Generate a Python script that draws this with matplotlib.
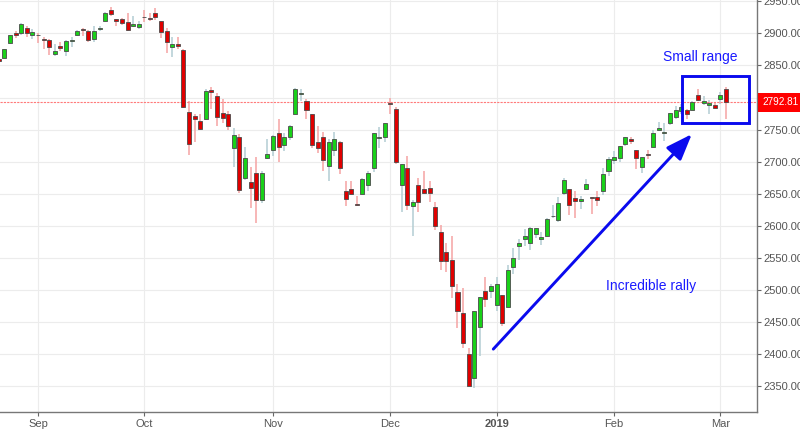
import numpy as np
import matplotlib
matplotlib.use("Agg")
import matplotlib.pyplot as plt
from matplotlib.patches import Rectangle

plt.rcParams['font.family'] = ['Liberation Sans', 'DejaVu Sans']

## S&P 500 daily candles, 23 Aug 2018 - 4 Mar 2019 ##
opens = [2860, 2862, 2885, 2901, 2901, 2909, 2898,
         2897, 2892, 2889, 2868, 2881, 2872, 2888, 2897, 2906, 2904, 2891, 2907, 2920, 2937,
         2922, 2922, 2917, 2912, 2910,
         2926, 2924, 2932, 2919, 2903, 2878, 2883, 2874, 2777, 2771, 2764, 2767, 2812, 2802,
         2776, 2774, 2721, 2738, 2675, 2668, 2683, 2641, 2706,
         2718, 2745, 2726, 2738, 2774, 2806, 2794, 2774, 2730, 2738, 2694, 2719, 2731, 2655,
         2658, 2633, 2650, 2664, 2691, 2737, 2738,
         2790.5, 2782, 2664, 2691, 2631, 2664, 2658, 2659, 2630, 2591, 2560, 2547, 2497, 2465,
         2401, 2363, 2443, 2499, 2499,
         2477, 2492, 2474, 2536, 2568, 2580, 2574, 2588, 2580, 2585, 2615, 2609, 2651, 2658,
         2643, 2639, 2657, 2645, 2645, 2654, 2685,
         2702, 2706, 2728, 2735, 2718, 2692, 2712, 2723, 2750, 2744, 2760, 2769, 2779, 2781,
         2781, 2804, 2792, 2788, 2788,
         2798, 2814]
highs = [2868, 2876, 2898, 2904, 2916, 2912, 2907,
         2900, 2895, 2892, 2883, 2886, 2890, 2894, 2906, 2908, 2905, 2912, 2912, 2934, 2941,
         2923, 2924, 2931, 2927, 2920,
         2937, 2932, 2940, 2920, 2909, 2894, 2894, 2875, 2795, 2775, 2775, 2814, 2816, 2807,
         2797, 2779, 2753, 2743, 2723, 2692, 2707, 2685, 2736,
         2741, 2766, 2744, 2757, 2815, 2814, 2797, 2775, 2755, 2747, 2735, 2747, 2733, 2670,
         2670, 2647, 2675, 2686, 2744, 2754, 2760,
         2800, 2785, 2696, 2709, 2641, 2675, 2686, 2670, 2638, 2602, 2573, 2585, 2509, 2504,
         2410, 2467, 2489, 2520, 2510,
         2520, 2493, 2539, 2566, 2580, 2595, 2598, 2597, 2590, 2613, 2632, 2645, 2675, 2658,
         2654, 2647, 2673, 2645, 2654, 2690, 2708,
         2716, 2725, 2738, 2739, 2718, 2708, 2718, 2749, 2762, 2761, 2776, 2787, 2790, 2782,
         2794, 2814, 2803, 2796, 2793,
         2809, 2816]
lows = [2855, 2862, 2884, 2893, 2898, 2895, 2891,
        2885, 2876, 2867, 2864, 2873, 2864, 2879, 2896, 2896, 2886, 2887, 2903, 2919, 2927,
        2912, 2913, 2903, 2910, 2907,
        2917, 2920, 2921, 2893, 2869, 2863, 2875, 2784, 2710, 2730, 2749, 2767, 2782, 2755,
        2760, 2749, 2692, 2651, 2671, 2628, 2604, 2636, 2705,
        2709, 2700, 2717, 2734, 2774, 2795, 2766, 2722, 2714, 2685, 2670, 2709, 2681, 2631,
        2650, 2631, 2650, 2655, 2684, 2722, 2730,
        2774, 2697, 2621, 2624, 2584, 2622, 2650, 2638, 2594, 2531, 2528, 2488, 2441, 2409,
        2351, 2347, 2398, 2473, 2488,
        2468, 2444, 2474, 2525, 2547, 2568, 2562, 2581, 2570, 2585, 2612, 2606, 2648, 2617,
        2613, 2627, 2657, 2618, 2631, 2648, 2678,
        2696, 2700, 2724, 2728, 2688, 2682, 2705, 2723, 2748, 2732, 2757, 2767, 2775, 2766,
        2781, 2794, 2789, 2775, 2784,
        2790, 2767]
closes = [2857, 2875, 2897, 2898, 2914, 2901, 2902,
          2896.7, 2889, 2878, 2872, 2877, 2888, 2889, 2904, 2905, 2889, 2904, 2908, 2931, 2930,
          2919, 2916, 2906, 2914, 2914,
          2925, 2923, 2926, 2902, 2886, 2884, 2880, 2786, 2728, 2767, 2751, 2810, 2809, 2769,
          2768, 2756, 2741, 2656, 2706, 2659, 2641, 2683, 2712,
          2740, 2723, 2738, 2755, 2814, 2807, 2781, 2726, 2722, 2702, 2730, 2736, 2691, 2642,
          2650, 2632.6, 2673, 2682, 2744, 2738, 2760,
          2790.4, 2700, 2696, 2633, 2638, 2637, 2651, 2651, 2600, 2546, 2546, 2507, 2467, 2417,
          2351, 2468, 2489, 2486, 2507,
          2510, 2448, 2532, 2550, 2574, 2585, 2597, 2596, 2583, 2610, 2616, 2636, 2671, 2633,
          2639, 2642, 2665, 2644, 2640, 2681, 2704,
          2707, 2725, 2738, 2732, 2706, 2708, 2710, 2745, 2753, 2746, 2776, 2780, 2785, 2775,
          2793, 2796, 2794, 2792, 2784,
          2804, 2792.81]

month_labels = ['Sep', 'Oct', 'Nov', 'Dec', '2019', 'Feb', 'Mar']
month_idx = [7, 26, 49, 70, 89, 110, 129]   # first trading day of each month
last_price = 2792.81

o = np.array(opens, float)
h = np.array(highs, float)
l = np.array(lows, float)
c = np.array(closes, float)
x = np.arange(len(o))
up = c >= o

fig = plt.figure(figsize=(8, 4.29), dpi=100)
ax = fig.add_axes([0, 0.0396, 0.9459, 0.9604])

# grid
for v in range(2350, 2951, 50):
    ax.axhline(v, color='#ececec', lw=0.8, zorder=0)
for m in month_idx:
    ax.axvline(m, color='#ececec', lw=0.8, zorder=0)

# wicks
wick_col = np.where(up, '#b3cdd3', '#f5a3a3')
ax.vlines(x, l, h, colors=wick_col, lw=1.1, zorder=1)

# bodies
body_col = np.where(up, '#19d119', '#e00000')
bottom = np.minimum(o, c)
height = np.maximum(np.abs(c - o), 1.2)
ax.bar(x, height, bottom=bottom, width=0.72, color=body_col,
       edgecolor='#4a4a4a', linewidth=0.6, zorder=2)

# last price line + tag
ax.axhline(last_price, color='#ff7a7a', lw=0.8, ls=(0, (2, 1)), zorder=1.5)
ax.annotate(f'{last_price:.2f}', xy=(1.0, last_price),
            xycoords=('axes fraction', 'data'), xytext=(4, 0),
            textcoords='offset points', ha='left', va='center',
            color='white', fontsize=7.2, annotation_clip=False, zorder=10,
            bbox=dict(boxstyle='square,pad=0.45', fc='#ff0000', ec='none'))

# annotations
ax.add_patch(Rectangle((122.1, 2760.2), 12.1, 73.7, fill=False,
                       ec='#0a0aee', lw=2.1, zorder=5))
ax.text(125.4, 2863.5, 'Small range', color='#1a1aff', fontsize=10,
        ha='center', va='center', zorder=5)
ax.annotate('', xy=(123.9, 2743), xytext=(88.4, 2408),
            arrowprops=dict(arrowstyle='-|>,head_length=0.8,head_width=0.3',
                            color='#0a0aee', lw=2.1, mutation_scale=20,
                            shrinkA=0, shrinkB=0), zorder=5)
ax.text(116.6, 2506, 'Incredible rally', color='#1a1aff', fontsize=10,
        ha='center', va='center', zorder=5)

# axes styling
ax.set_xlim(0.2, 135.5)
ax.set_ylim(2310, 2952)
ax.yaxis.tick_right()
ax.set_yticks(range(2350, 2951, 50))
ax.set_yticklabels([f'{v:.2f}' for v in range(2350, 2951, 50)])
ax.set_xticks(month_idx)
ax.set_xticklabels(month_labels)
for t in ax.get_xticklabels():
    if t.get_text() == '2019':
        t.set_fontweight('bold')
        t.set_color('#444444')
ax.tick_params(axis='y', colors='#666666', labelcolor='#555555', labelsize=8,
               length=3, pad=2)
ax.tick_params(axis='x', colors='#666666', labelcolor='#555555', labelsize=8,
               length=3, pad=2)
for s in ['left', 'top']:
    ax.spines[s].set_visible(False)
for s in ['right', 'bottom']:
    ax.spines[s].set_color('#777777')
    ax.spines[s].set_linewidth(1)
ax.set_facecolor('white')

fig.savefig('out.png', dpi=100)
